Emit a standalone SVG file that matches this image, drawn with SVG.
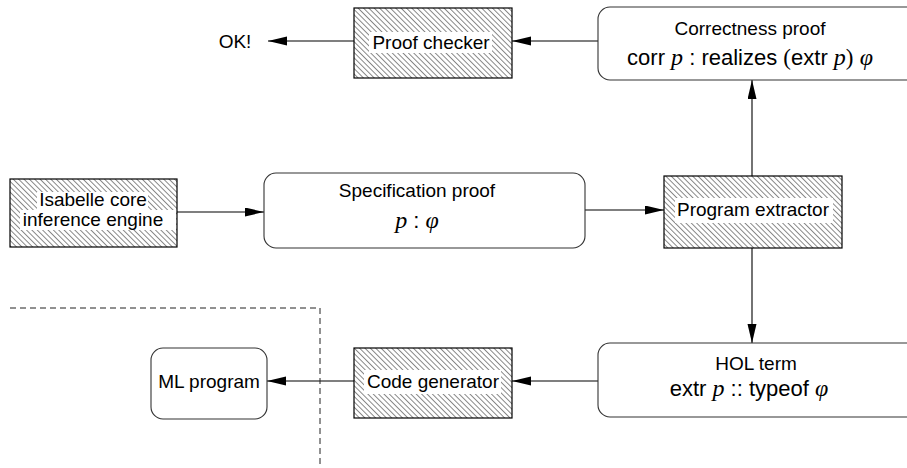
<svg xmlns="http://www.w3.org/2000/svg" width="907" height="468" viewBox="0 0 907 468">
<defs>
<pattern id="hatch" patternUnits="userSpaceOnUse" width="3.8" height="3.8" patternTransform="rotate(-45)">
<line x1="0.5" y1="0" x2="0.5" y2="3.8" stroke="#111" stroke-width="0.5"/>
</pattern>
<marker id="arr" markerUnits="userSpaceOnUse" markerWidth="20" markerHeight="10" refX="19" refY="4.5" orient="auto">
<path d="M0,0 L19,4.5 L0,9 Z" fill="#000"/>
</marker>
<style>
.hb{fill:url(#hatch);stroke:#000;stroke-width:1.2}
.rb{fill:#fff;stroke:#333;stroke-width:1.1}
.wb{fill:#fff}
.t{font-family:"Liberation Sans",Arial,sans-serif;font-size:19px;fill:#000;text-anchor:middle}
.l2{font-size:22px}
.m{font-family:"Liberation Serif","DejaVu Serif",serif;font-style:italic;font-size:24px}
.r{font-family:"Liberation Serif","DejaVu Serif",serif;font-size:23px}
.c{stroke:#000;stroke-width:1.1;fill:none;marker-end:url(#arr)}
.d{stroke:#222;stroke-width:1;fill:none;stroke-dasharray:6,4}
</style>
</defs>
<rect width="907" height="468" fill="#fff"/>
<g id="connectors">
<line class="c" x1="354" y1="41" x2="268" y2="41"/>
<line class="c" x1="598" y1="41" x2="512" y2="41"/>
<line class="c" x1="177" y1="212" x2="264" y2="212"/>
<line class="c" x1="585" y1="210" x2="664" y2="210"/>
<line class="c" x1="752" y1="176" x2="752" y2="80"/>
<line class="c" x1="752" y1="248" x2="752" y2="343"/>
<line class="c" x1="598" y1="381" x2="512" y2="381"/>
<line class="c" x1="354" y1="381" x2="267" y2="381"/>
<path class="d" d="M10,308 H320 V468"/>
</g>
<g id="ok">
<text class="t" x="235" y="48">OK!</text>
</g>
<g id="proof-checker">
<rect class="hb" x="354" y="8" width="158" height="70"/>
<rect class="wb" x="369" y="32" width="123" height="21"/>
<text class="t" x="431" y="49">Proof checker</text>
</g>
<g id="correctness-proof">
<rect class="rb" x="598" y="7" width="330" height="73" rx="12"/>
<text class="t" x="750" y="35">Correctness proof</text>
<text class="t l2" x="750" y="65">corr <tspan class="m">p</tspan> : realizes <tspan class="r">(</tspan>extr <tspan class="m">p</tspan><tspan class="r">)</tspan> <tspan class="m">φ</tspan></text>
</g>
<g id="isabelle-core">
<rect class="hb" x="10" y="179" width="167" height="68"/>
<rect class="wb" x="37" y="192" width="111" height="18"/>
<rect class="wb" x="20" y="210" width="156" height="20"/>
<text class="t" x="93" y="206">Isabelle core</text>
<text class="t" x="93" y="226">inference engine</text>
</g>
<g id="specification-proof">
<rect class="rb" x="264" y="173" width="321" height="75" rx="12"/>
<text class="t" x="417" y="197">Specification proof</text>
<text class="t l2" x="417" y="228"><tspan class="m">p</tspan> : <tspan class="m">φ</tspan></text>
</g>
<g id="program-extractor">
<rect class="hb" x="664" y="176" width="178" height="72"/>
<rect class="wb" x="675" y="198" width="158" height="25"/>
<text class="t" x="753" y="216">Program extractor</text>
</g>
<g id="hol-term">
<rect class="rb" x="598" y="343" width="330" height="74" rx="12"/>
<text class="t" x="756" y="370">HOL term</text>
<text class="t l2" x="749" y="396">extr <tspan class="m">p</tspan> :: typeof <tspan class="m">φ</tspan></text>
</g>
<g id="code-generator">
<rect class="hb" x="354" y="348" width="158" height="70"/>
<rect class="wb" x="364" y="370" width="137" height="24"/>
<text class="t" x="433" y="388">Code generator</text>
</g>
<g id="ml-program">
<rect class="rb" x="151" y="348" width="116" height="71" rx="12"/>
<text class="t" x="209" y="388">ML program</text>
</g>
</svg>
